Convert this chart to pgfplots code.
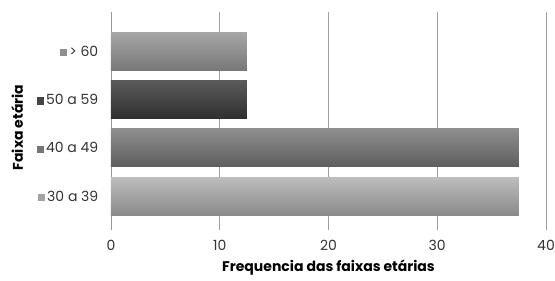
\documentclass[border=0pt]{standalone}
\usepackage{pgfplots}
\pgfplotsset{compat=1.18}
\usepackage{fontspec}
\setmainfont{Poppins}
\definecolor{cA}{HTML}{A3A3A3}
\definecolor{cAt}{HTML}{BDBDBD}
\definecolor{cAm}{HTML}{A2A2A2}
\definecolor{cAb}{HTML}{8A8A8A}
\definecolor{cB}{HTML}{767676}
\definecolor{cBt}{HTML}{8E8E8E}
\definecolor{cBm}{HTML}{767676}
\definecolor{cBb}{HTML}{5E5E5E}
\definecolor{cC}{HTML}{444444}
\definecolor{cCt}{HTML}{5A5A5A}
\definecolor{cCm}{HTML}{444444}
\definecolor{cCb}{HTML}{303030}
\definecolor{cD}{HTML}{8F8F8F}
\definecolor{cDt}{HTML}{A6A6A6}
\definecolor{cDm}{HTML}{8F8F8F}
\definecolor{cDb}{HTML}{787878}
\definecolor{txt}{HTML}{333333}
\newcommand{\sq}[1]{\textcolor{#1}{\rule{5.5pt}{5.5pt}}\hspace{1.5pt}}
\begin{document}
\begin{tikzpicture}
\useasboundingbox (-83.25pt,-37.5pt) rectangle (333pt,172.5pt);
\begin{axis}[
  at={(0,0)}, anchor=south west,
  scale only axis,
  width=326.25pt, height=163.5pt,
  xbar, bar width=28.5pt, bar shift=0pt,
  xmin=0, xmax=40, ymin=-0.70, ymax=3.81,
  axis x line*=bottom, axis y line*=left,
  x axis line style={draw=none},
  y axis line style={draw=gray!80, line width=0.6pt},
  xtick={0,10,20,30,40},
  ytick={0,1,2,3},
  yticklabels={\sq{cA}30 a 39,\sq{cB}40 a 49,\sq{cC}50 a 59,\sq{cD}> 60},
  major tick length=0pt,
  xmajorgrids, major grid style={draw=gray!75, line width=0.5pt},
  tick label style={font=\fontsize{10.5}{12}\selectfont, text=txt},
  xticklabel style={anchor=center, yshift=-11.25pt},
  yticklabel style={anchor=east, xshift=-6pt},
  xlabel={\textbf{Frequencia das faixas etárias}},
  ylabel={\textbf{Faixa etária}},
  label style={font=\fontsize{10.5}{12}\selectfont, text=black},
  xlabel style={at={(axis description cs:0.5,0)}, anchor=center, yshift=-28.5pt},
  ylabel style={at={(axis description cs:-0.216,0.47)}, anchor=center},
  /pgf/number format/assume math mode=true,
]
\addplot[draw=none, top color=cAt, middle color=cAm, bottom color=cAb] coordinates {(37.5,0)};
\addplot[draw=none, top color=cBt, middle color=cBm, bottom color=cBb] coordinates {(37.5,1)};
\addplot[draw=none, top color=cCt, middle color=cCm, bottom color=cCb] coordinates {(12.5,2)};
\addplot[draw=none, top color=cDt, middle color=cDm, bottom color=cDb] coordinates {(12.5,3)};
\end{axis}
\end{tikzpicture}
\end{document}
